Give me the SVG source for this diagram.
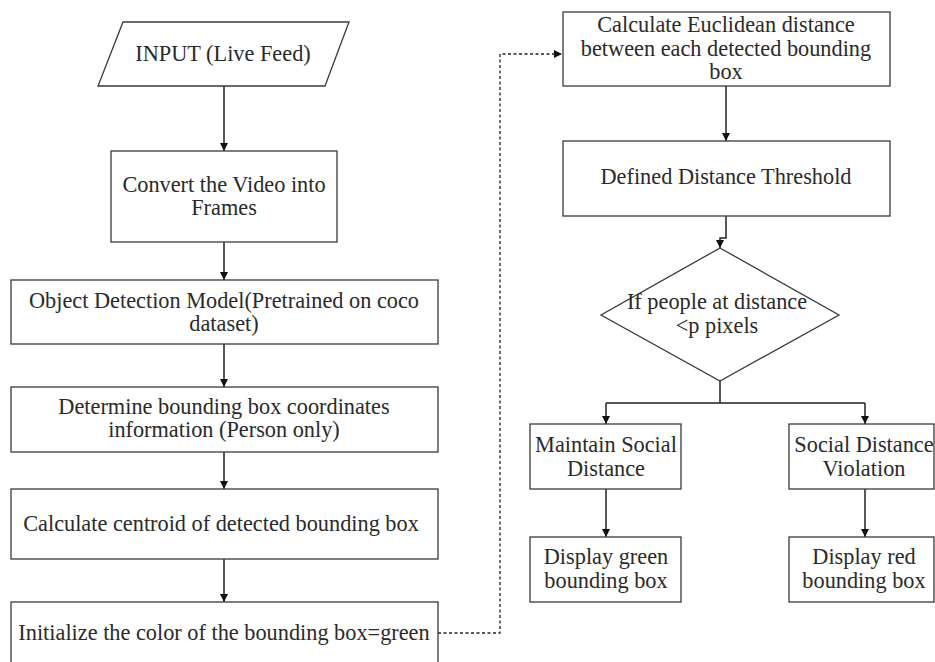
<svg xmlns="http://www.w3.org/2000/svg" width="935" height="662" viewBox="0 0 935 662">
<style>
.n{fill:#fff;stroke:#3a3a3a;stroke-width:1.3}
.t{font-family:'Liberation Serif',Tinos,'Times New Roman',Times,'Noto Serif','DejaVu Serif',serif;font-size:22.3px;fill:#2a2a2a;text-anchor:middle}
.c{fill:none;stroke:#222;stroke-width:1.5}
.d{fill:none;stroke:#222;stroke-width:1.3;stroke-dasharray:3 2.5}
</style>
<defs>
<marker id="a" markerWidth="10" markerHeight="10" refX="9" refY="5" orient="auto" markerUnits="userSpaceOnUse">
<path d="M1,1 L9,5 L1,9 z" fill="#111"/>
</marker>
</defs>
<rect width="935" height="662" fill="#fff"/>
<g id="connectors">
<line class="c" x1="224" y1="86" x2="224" y2="151" marker-end="url(#a)"/>
<line class="c" x1="224" y1="242" x2="224" y2="280" marker-end="url(#a)"/>
<line class="c" x1="224" y1="344" x2="224" y2="387" marker-end="url(#a)"/>
<line class="c" x1="224" y1="452" x2="224" y2="489" marker-end="url(#a)"/>
<line class="c" x1="224" y1="559" x2="224" y2="602" marker-end="url(#a)"/>
<path class="d" d="M438,633 H500 V54 H562" marker-end="url(#a)"/>
<line class="c" x1="726" y1="86" x2="726" y2="141" marker-end="url(#a)"/>
<path class="c" d="M726,216 V238 H720 V248" marker-end="url(#a)"/>
<path class="c" d="M720,381 V403 M606,403 H865"/>
<line class="c" x1="606" y1="403" x2="606" y2="424" marker-end="url(#a)"/>
<line class="c" x1="865" y1="403" x2="865" y2="424" marker-end="url(#a)"/>
<line class="c" x1="606" y1="489" x2="606" y2="537" marker-end="url(#a)"/>
<line class="c" x1="865" y1="489" x2="865" y2="537" marker-end="url(#a)"/>
</g>
<g id="input">
<polygon class="n" points="123,22 349,22 325,86 98,86"/>
<text class="t" x="223" y="61">INPUT (Live Feed)</text>
</g>
<g id="convert">
<rect class="n" x="111" y="151" width="226" height="91"/>
<text class="t" x="224" y="192">Convert the Video into</text>
<text class="t" x="224" y="215">Frames</text>
</g>
<g id="detect">
<rect class="n" x="11" y="280" width="427" height="64"/>
<text class="t" x="224" y="308">Object Detection Model(Pretrained on coco</text>
<text class="t" x="224" y="331">dataset)</text>
</g>
<g id="bbox">
<rect class="n" x="11" y="387" width="427" height="65"/>
<text class="t" x="224" y="414">Determine bounding box coordinates</text>
<text class="t" x="224" y="437">information (Person only)</text>
</g>
<g id="centroid">
<rect class="n" x="11" y="489" width="427" height="70"/>
<text class="t" x="221" y="531">Calculate centroid of detected bounding box</text>
</g>
<g id="init">
<rect class="n" x="11" y="602" width="427" height="70"/>
<text class="t" x="224" y="640">Initialize the color of the bounding box=green</text>
</g>
<g id="euclid">
<rect class="n" x="563" y="12" width="327" height="74"/>
<text class="t" x="726" y="32">Calculate Euclidean distance</text>
<text class="t" x="726" y="56">between each detected bounding</text>
<text class="t" x="726" y="79">box</text>
</g>
<g id="threshold">
<rect class="n" x="563" y="141" width="327" height="75"/>
<text class="t" x="726" y="184">Defined Distance Threshold</text>
</g>
<g id="decision">
<polygon class="n" points="720,248 839,315 720,381 601,315"/>
<text class="t" x="717" y="309">If people at distance</text>
<text class="t" x="717" y="333">&lt;p pixels</text>
</g>
<g id="maintain">
<rect class="n" x="530" y="424" width="151" height="65"/>
<text class="t" x="606" y="452">Maintain Social</text>
<text class="t" x="606" y="476">Distance</text>
</g>
<g id="violation">
<rect class="n" x="789" y="424" width="145" height="65"/>
<text class="t" x="864" y="452">Social Distance</text>
<text class="t" x="864" y="476">Violation</text>
</g>
<g id="green">
<rect class="n" x="530" y="537" width="151" height="65"/>
<text class="t" x="606" y="564">Display green</text>
<text class="t" x="606" y="588">bounding box</text>
</g>
<g id="red">
<rect class="n" x="789" y="537" width="145" height="65"/>
<text class="t" x="864" y="564">Display red</text>
<text class="t" x="864" y="588">bounding box</text>
</g>
</svg>
